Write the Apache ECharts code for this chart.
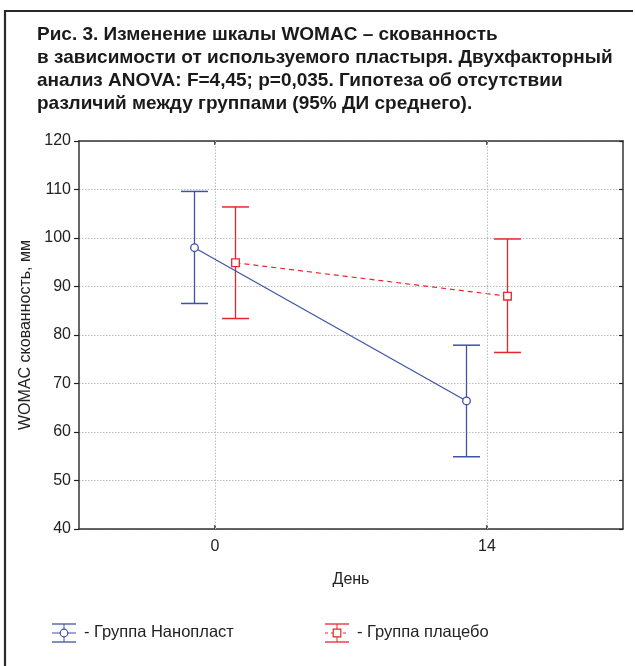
<!DOCTYPE html>
<html>
<head>
<meta charset="utf-8">
<script src="https://cdn.jsdelivr.net/npm/echarts@6/dist/echarts.min.js"></script>
<style>
html,body{margin:0;padding:0;background:#fff;}
#chart{width:635px;height:666px;}
</style>
</head>
<body>
<div id="chart"></div>
<script>
// ---- data ----
var days = ['0', '14'];
var nanoMean = [98.0, 66.4];
var nanoLow = [86.5, 54.9];
var nanoHigh = [109.6, 77.9];
var placeboMean = [94.9, 88.0];
var placeboLow = [83.4, 76.4];
var placeboHigh = [106.4, 99.8];
var yTicks = [40, 120, 10];
var titleText = 'Рис. 3. Изменение шкалы WOMAC – скованность\nв зависимости от используемого пластыря. Двухфакторный\nанализ ANOVA: F=4,45; p=0,035. Гипотеза об отсутствии\nразличий между группами (95% ДИ среднего).';
var groupNames = ['- Группа Нанопласт', '- Группа плацебо'];

var BLUE = '#3d52a8';
var RED = '#e8262c';
var FONT = 'Liberation Sans, Arial, sans-serif';

function makeData(mean, low, high) {
  return mean.map(function (m, i) { return [i, m, low[i], high[i]]; });
}

function makeRender(mean, color, dx, dashed, markerType) {
  return function (params, api) {
    var i = api.value(0);
    var p = api.coord([i, api.value(1)]);
    var lo = api.coord([i, api.value(2)]);
    var hi = api.coord([i, api.value(3)]);
    var x = p[0] + dx;
    var cap = 13.5;
    var children = [];
    if (i < mean.length - 1) {
      var q = api.coord([i + 1, mean[i + 1]]);
      children.push({
        type: 'line',
        shape: { x1: x, y1: p[1], x2: q[0] + dx, y2: q[1] },
        style: { stroke: color, lineWidth: 1.2, lineDash: dashed ? [5, 4] : null }
      });
    }
    children.push({ type: 'line', shape: { x1: x, y1: hi[1], x2: x, y2: lo[1] }, style: { stroke: color, lineWidth: 1.3 } });
    children.push({ type: 'line', shape: { x1: x - cap, y1: hi[1], x2: x + cap, y2: hi[1] }, style: { stroke: color, lineWidth: 1.5 } });
    children.push({ type: 'line', shape: { x1: x - cap, y1: lo[1], x2: x + cap, y2: lo[1] }, style: { stroke: color, lineWidth: 1.5 } });
    if (markerType === 'circle') {
      children.push({ type: 'circle', shape: { cx: x, cy: p[1], r: 3.8 }, style: { fill: '#fff', stroke: color, lineWidth: 1.3 } });
    } else {
      children.push({ type: 'rect', shape: { x: x - 3.8, y: p[1] - 3.8, width: 7.6, height: 7.6 }, style: { fill: '#fff', stroke: color, lineWidth: 1.3 } });
    }
    return { type: 'group', children: children };
  };
}

function legendIcon(x, y, color, dashed, markerType) {
  var w = 24, h = 18;
  var cx = x + w / 2;
  var kids = [
    { type: 'line', shape: { x1: x, y1: y - h / 2, x2: x + w, y2: y - h / 2 }, style: { stroke: color, lineWidth: 1.3 } },
    { type: 'line', shape: { x1: x, y1: y + h / 2, x2: x + w, y2: y + h / 2 }, style: { stroke: color, lineWidth: 1.3 } },
    { type: 'line', shape: { x1: cx, y1: y - h / 2, x2: cx, y2: y + h / 2 }, style: { stroke: color, lineWidth: 1 } },
    { type: 'line', shape: { x1: x, y1: y, x2: x + w, y2: y }, style: { stroke: color, lineWidth: 1, lineDash: dashed ? [3, 3] : null } }
  ];
  if (markerType === 'circle') {
    kids.push({ type: 'circle', shape: { cx: cx, cy: y, r: 3.8 }, style: { fill: '#fff', stroke: color, lineWidth: 1.2 } });
  } else {
    kids.push({ type: 'rect', shape: { x: cx - 3.8, y: y - 3.8, width: 7.6, height: 7.6 }, style: { fill: '#fff', stroke: color, lineWidth: 1.2 } });
  }
  return kids;
}

var chart = echarts.init(document.getElementById('chart'), null, { renderer: 'canvas' });

var axisLineStyle = { color: '#333', width: 1.5 };
var gridLine = { show: true, lineStyle: { color: '#bdbdbd', type: [1.5, 1.5], width: 1 } };

var option = {
  backgroundColor: '#fff',
  animation: false,
  textStyle: { fontFamily: FONT },
  title: {
    text: titleText,
    left: 37, top: 23, padding: 0,
    textStyle: { fontFamily: FONT, fontWeight: 'bold', fontSize: 19, lineHeight: 23, color: '#1a1a1a' }
  },
  grid: { left: 79, top: 141, right: 12, bottom: 137, containLabel: false },
  xAxis: [{
    type: 'category', data: days, boundaryGap: true, position: 'bottom',
    axisLine: { show: true, lineStyle: axisLineStyle },
    axisTick: { show: true, inside: true, alignWithLabel: true, length: 4, lineStyle: { color: '#222', width: 1.5 } },
    axisLabel: { fontSize: 16, color: '#222', margin: 10, fontFamily: FONT },
    splitLine: { show: false },
    name: 'День', nameLocation: 'middle', nameGap: 43,
    nameTextStyle: { fontSize: 16, color: '#222', fontFamily: FONT }
  }, {
    type: 'category', data: days, boundaryGap: true, position: 'top',
    axisLine: { show: true, lineStyle: axisLineStyle },
    axisTick: { show: true, inside: true, alignWithLabel: true, length: 4, lineStyle: { color: '#222', width: 1.5 } },
    axisLabel: { show: false }, splitLine: { show: false }
  }],
  yAxis: [{
    type: 'value', min: yTicks[0], max: yTicks[1], interval: yTicks[2], position: 'left',
    axisLine: { show: true, lineStyle: axisLineStyle },
    axisTick: { show: true, inside: false, length: 5, lineStyle: { color: '#222', width: 1.2 } },
    axisLabel: { fontSize: 16, color: '#222', margin: 8, fontFamily: FONT },
    splitLine: gridLine,
    name: 'WOMAC скованность, мм', nameLocation: 'middle', nameGap: 44, nameRotate: 90,
    nameTextStyle: { fontSize: 16, color: '#222', fontFamily: FONT }
  }, {
    type: 'value', min: yTicks[0], max: yTicks[1], interval: yTicks[2], position: 'right',
    axisLine: { show: true, lineStyle: axisLineStyle },
    axisTick: { show: true, inside: true, length: 4, lineStyle: { color: '#222', width: 1.2 } },
    axisLabel: { show: false }, splitLine: { show: false }
  }],
  series: [{
    type: 'custom', name: groupNames[0],
    xAxisIndex: 0, yAxisIndex: 0,
    data: makeData(nanoMean, nanoLow, nanoHigh),
    renderItem: makeRender(nanoMean, BLUE, -20.5, false, 'circle'),
    z: 3,
    markLine: {
      silent: true, symbol: 'none', label: { show: false },
      lineStyle: { color: '#bdbdbd', type: [1.5, 1.5], width: 1 },
      data: days.map(function (d) { return { xAxis: d }; })
    }
  }, {
    type: 'custom', name: groupNames[1],
    xAxisIndex: 0, yAxisIndex: 0,
    data: makeData(placeboMean, placeboLow, placeboHigh),
    renderItem: makeRender(placeboMean, RED, 20.5, true, 'square'),
    z: 2
  }],
  graphic: [
    { type: 'line', shape: { x1: 5, y1: 11, x2: 633, y2: 11 }, style: { stroke: '#2a2a2a', lineWidth: 2 } },
    { type: 'line', shape: { x1: 5, y1: 10, x2: 5, y2: 666 }, style: { stroke: '#2a2a2a', lineWidth: 2.2 } },
    { type: 'group', children: legendIcon(52, 633, BLUE, false, 'circle') },
    { type: 'text', left: 84, top: 624, style: { text: groupNames[0], fontSize: 16.5, fill: '#222', fontFamily: FONT } },
    { type: 'group', children: legendIcon(325, 633, RED, true, 'square') },
    { type: 'text', left: 357, top: 624, style: { text: groupNames[1], fontSize: 16.5, fill: '#222', fontFamily: FONT } }
  ]
};
chart.setOption(option);
</script>
</body>
</html>
